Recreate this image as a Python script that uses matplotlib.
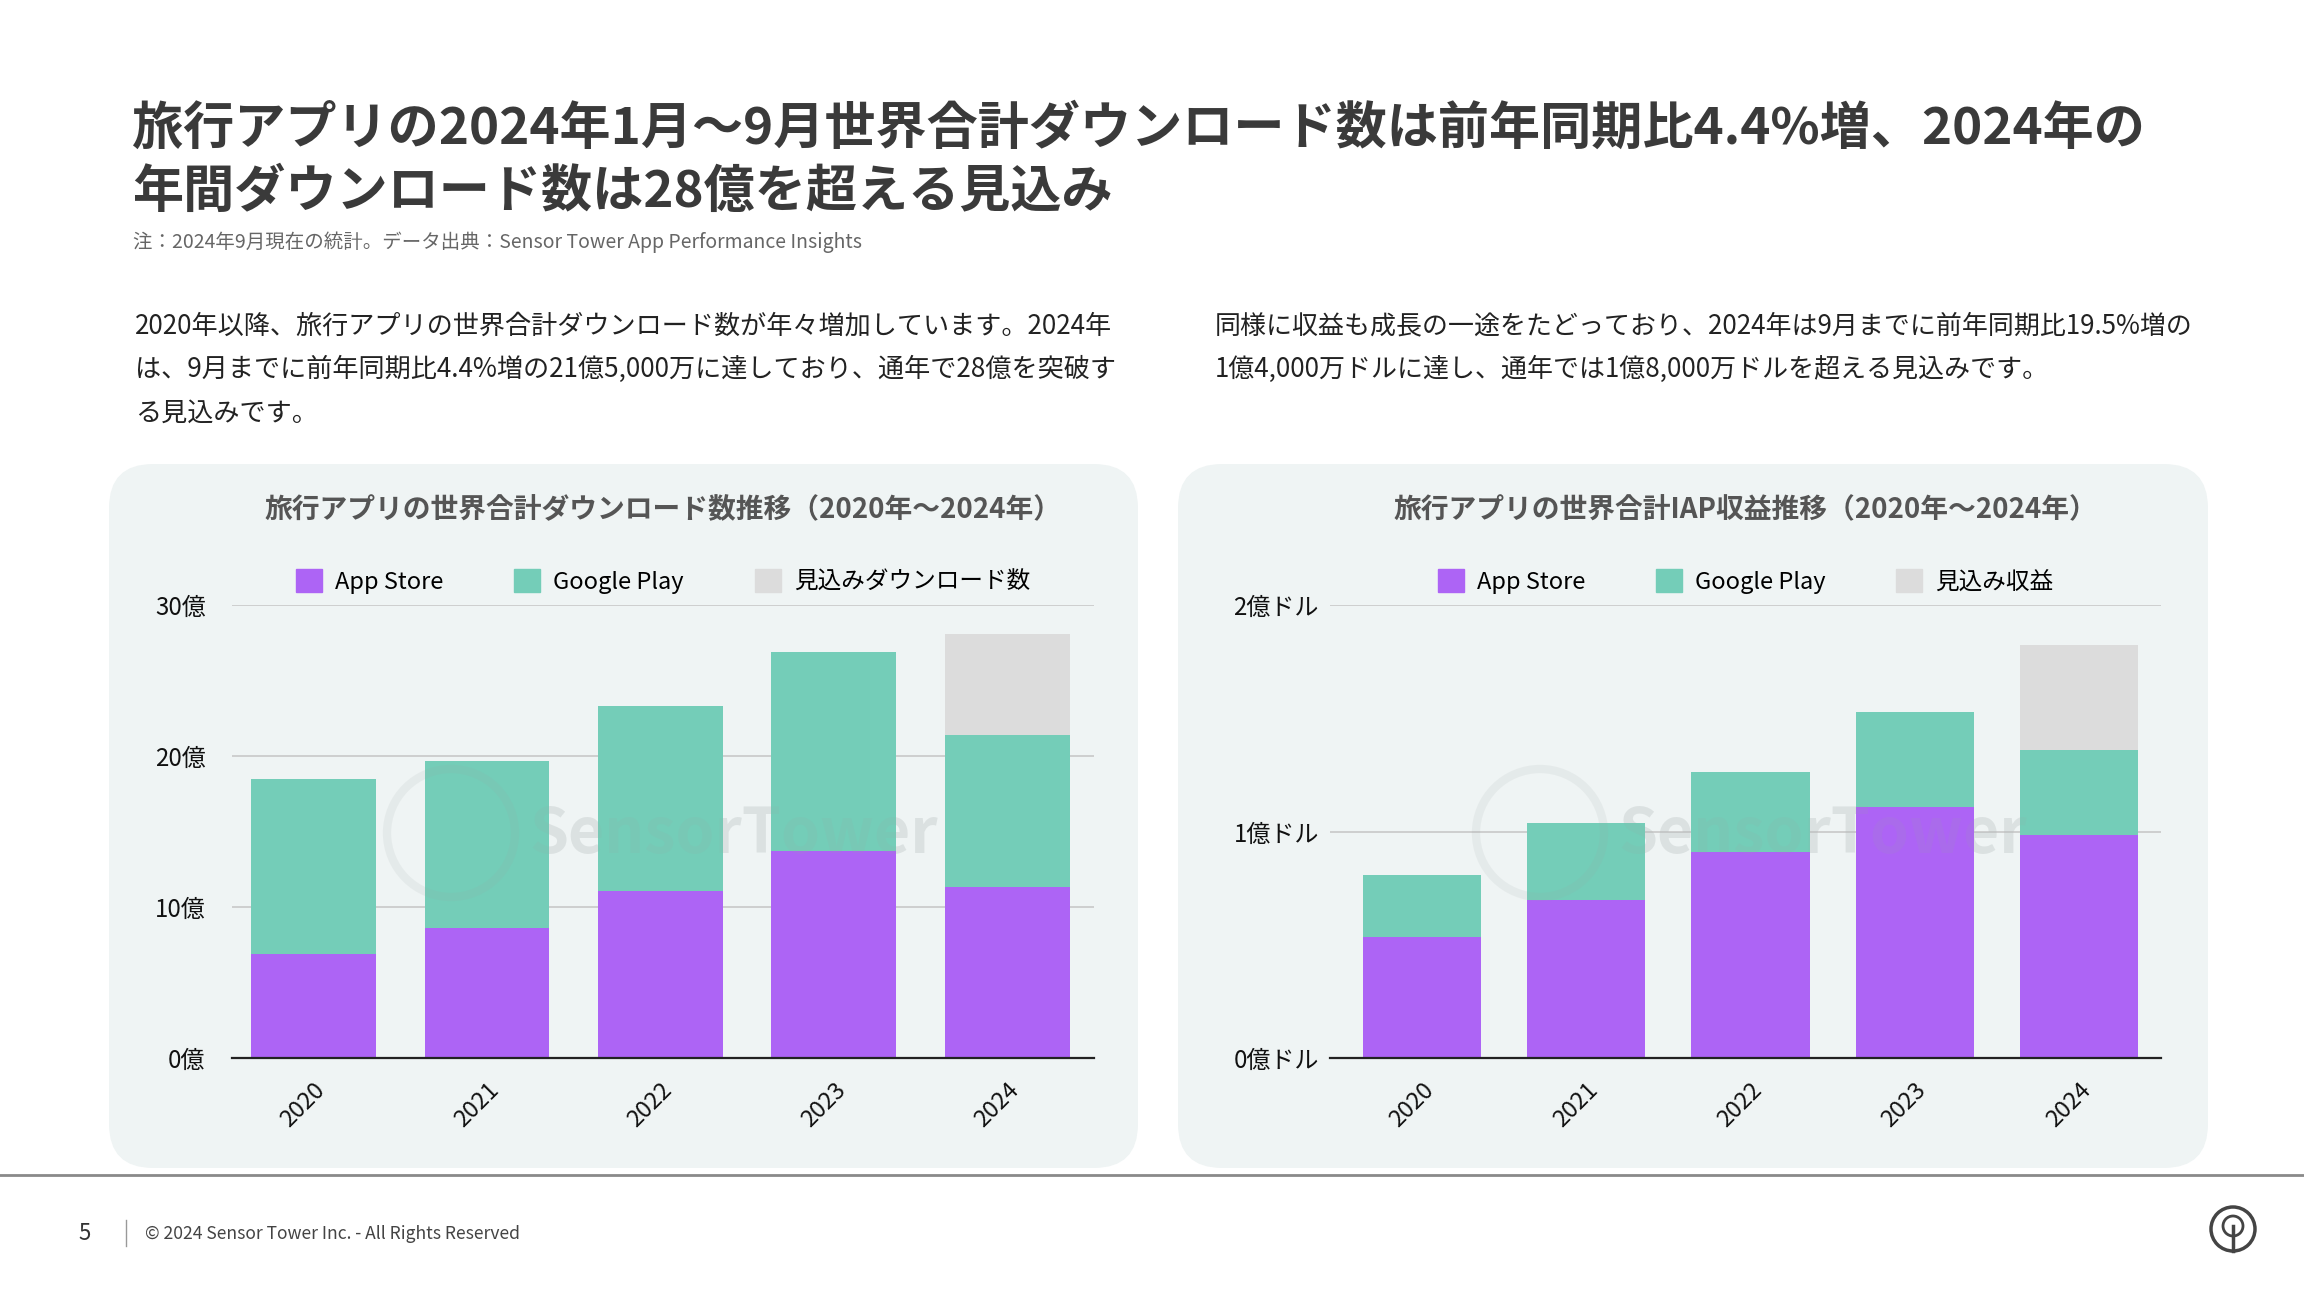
import matplotlib
matplotlib.use('Agg')
import matplotlib.pyplot as plt
from matplotlib.patches import FancyBboxPatch, Patch, Circle
import numpy as np

# ---------------- data ----------------
years = ['2020', '2021', '2022', '2023', '2024']
dl_app = [6.9, 8.6, 11.05, 13.7, 11.3]        # 億
dl_gp = [11.6, 11.1, 12.25, 13.2, 10.1]       # 億
dl_proj = [0, 0, 0, 0, 6.7]                   # 億 (見込み)
rev_app = [0.534, 0.698, 0.909, 1.107, 0.984]  # 億ドル
rev_gp = [0.274, 0.338, 0.352, 0.419, 0.378]   # 億ドル
rev_proj = [0, 0, 0, 0, 0.46]                  # 億ドル (見込み)

dl_ticks = [0, 10, 20, 30]
dl_ticklabels = ['0億', '10億', '20億', '30億']
rev_ticks = [0, 1, 2]
rev_ticklabels = ['0億ドル', '1億ドル', '2億ドル']

legend_dl = ['App Store', 'Google Play', '見込みダウンロード数']
legend_rev = ['App Store', 'Google Play', '見込み収益']

title_main = ['旅行アプリの2024年1月～9月世界合計ダウンロード数は前年同期比4.4%増、2024年の',
              '年間ダウンロード数は28億を超える見込み']
note = '注：2024年9月現在の統計。データ出典：Sensor Tower App Performance Insights'
body_left = ['2020年以降、旅行アプリの世界合計ダウンロード数が年々増加しています。2024年',
             'は、9月までに前年同期比4.4%増の21億5,000万に達しており、通年で28億を突破す',
             'る見込みです。']
body_right = ['同様に収益も成長の一途をたどっており、2024年は9月までに前年同期比19.5%増の',
              '1億4,000万ドルに達し、通年では1億8,000万ドルを超える見込みです。']
chart_title_dl = '旅行アプリの世界合計ダウンロード数推移（2020年～2024年）'
chart_title_rev = '旅行アプリの世界合計IAP収益推移（2020年～2024年）'
footer = '© 2024 Sensor Tower Inc. - All Rights Reserved'
page_no = '5'

# ---------------- style ----------------
plt.rcParams['font.family'] = ['Noto Sans CJK JP', 'DejaVu Sans']
C_APP = '#AD64F5'
C_GP = '#74CDB8'
C_PROJ = '#DCDCDC'
C_PANEL = '#EFF4F4'
C_TITLE = '#3A3A3A'

W, H = 2304, 1296
fig = plt.figure(figsize=(W / 100, H / 100), dpi=100)
fig.patch.set_facecolor('white')

# background axes in pixel coords
bg = fig.add_axes([0, 0, 1, 1], zorder=0)
bg.set_xlim(0, W)
bg.set_ylim(H, 0)
bg.axis('off')

# panels
for x0, x1 in [(109, 1138), (1178, 2208)]:
    bg.add_patch(FancyBboxPatch((x0, 464), x1 - x0, 1168 - 464,
                                boxstyle='round,pad=0,rounding_size=44',
                                facecolor=C_PANEL, edgecolor='none'))

# header text
bg.text(132, 129, title_main[0], fontsize=36.8, fontweight='bold', color=C_TITLE,
        va='center', ha='left')
bg.text(132, 192, title_main[1], fontsize=36.8, fontweight='bold', color=C_TITLE,
        va='center', ha='left')
bg.text(133, 242, note, fontsize=14, color='#666666', va='center', ha='left')
for i, line in enumerate(body_left):
    bg.text(135, 326 + i * 43.5, line, fontsize=18.8, color='#222222', va='center', ha='left')
for i, line in enumerate(body_right):
    bg.text(1215, 326 + i * 43.5, line, fontsize=18.7, color='#222222', va='center', ha='left')

# footer
bg.plot([0, W], [1175, 1175], color='#8A8A8A', lw=2)
bg.text(85, 1234, page_no, fontsize=16, color='#333333', va='center', ha='center')
bg.plot([126, 126], [1220, 1246], color='#999999', lw=1)
bg.text(145, 1234, footer, fontsize=12.6, color='#444444', va='center', ha='left')
bg.add_patch(Circle((2233, 1229), 22, facecolor='none', edgecolor='#444444', lw=2.5))
bg.add_patch(Circle((2233, 1226), 10, facecolor='none', edgecolor='#444444', lw=2))
bg.plot([2233, 2233], [1226, 1251], color='#444444', lw=2.5)


def draw_chart(rect, app, gp, proj, ticks, ticklabels, legend_labels, title, xlim,
               wm_center, ypad):
    ax = fig.add_axes(rect, zorder=2)
    ax.patch.set_alpha(0)
    x = np.arange(len(years))
    app = np.array(app)
    gp = np.array(gp)
    proj = np.array(proj)
    w = 0.72
    ax.bar(x, app, w, color=C_APP, zorder=3)
    ax.bar(x, gp, w, bottom=app, color=C_GP, zorder=3)
    ax.bar(x, proj, w, bottom=app + gp, color=C_PROJ, zorder=3)
    ax.set_xlim(*xlim)
    ax.set_ylim(ticks[0], ticks[-1])
    ax.set_yticks(ticks)
    ax.set_yticklabels(ticklabels, fontsize=17.3, color='#111111')
    ax.set_xticks(x)
    ax.set_xticklabels(years, rotation=45, ha='right', rotation_mode='anchor',
                       fontsize=17, color='#111111')
    ax.tick_params(axis='both', length=0)
    ax.tick_params(axis='y', pad=ypad)
    ax.tick_params(axis='x', pad=15)
    ax.grid(axis='y', color='#C8C8C8', lw=1.2, zorder=0)
    ax.set_axisbelow(True)
    for s in ['top', 'right', 'left']:
        ax.spines[s].set_visible(False)
    ax.spines['bottom'].set_color('#222222')
    ax.spines['bottom'].set_linewidth(1.6)
    ax.spines['bottom'].set_zorder(4)
    handles = [Patch(color=C_APP), Patch(color=C_GP), Patch(color=C_PROJ)]
    ax.legend(handles, legend_labels, ncol=3, loc='center',
              bbox_to_anchor=(0.5, 1.052), frameon=False, fontsize=17,
              handlelength=1.1, handleheight=1.1, handletextpad=0.55,
              columnspacing=3.0, borderaxespad=0)
    # chart title
    cx = (rect[0] + rect[2] / 2) * W
    bg.text(cx, 510, title, fontsize=20, fontweight='bold', color='#555555',
            ha='center', va='center')
    # watermark
    wx, wy = wm_center
    fig.patches.append(Circle((wx, wy), 64, transform=bg.transData, facecolor='none',
                              edgecolor='#9AA5A5', lw=6, alpha=0.12, zorder=5))
    fig.texts.append(bg.text(wx + 78, wy + 2, 'SensorTower', fontsize=45, fontweight='bold',
                             color='#9AA5A5', alpha=0.12, va='center', ha='left',
                             zorder=5))
    return ax


ax1 = draw_chart([232 / W, 1 - 1058 / H, (1094 - 232) / W, (1058 - 605) / H],
                 dl_app, dl_gp, dl_proj, dl_ticks, dl_ticklabels, legend_dl,
                 chart_title_dl, (-0.47, 4.5), (451, 833), 19)
ax2 = draw_chart([1330 / W, 1 - 1058 / H, (2161 - 1330) / W, (1058 - 605) / H],
                 rev_app, rev_gp, rev_proj, rev_ticks, rev_ticklabels, legend_rev,
                 chart_title_rev, (-0.56, 4.5), (1540, 833), 8)

fig.savefig('out.png', dpi=100)
